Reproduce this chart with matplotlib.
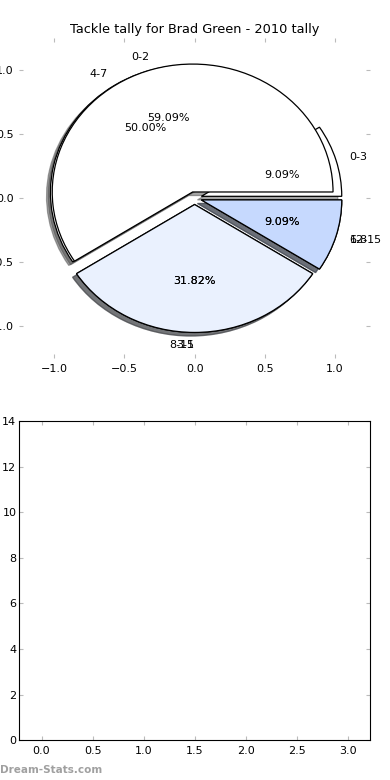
import matplotlib
matplotlib.use('Agg')
import matplotlib.pyplot as plt
import numpy as np

# first tally breakdown (drawn on top)
labels_a = ['0-2', '3-5', '6-8']
counts_a = [13, 7, 2]
colors_a = ['#ffffff', '#eaf1fe', '#c6d9fe']

# second tally breakdown (drawn underneath)
labels_b = ['0-3', '4-7', '8-11', '12-15']
counts_b = [2, 11, 7, 2]
colors_b = ['#ffffff', '#ffffff', '#eaf1fe', '#c6d9fe']

pie_ticks = [-1.0, -0.5, 0.0, 0.5, 1.0]
bar_xticks = [0.0, 0.5, 1.0, 1.5, 2.0, 2.5, 3.0]
bar_yticks = [0, 2, 4, 6, 8, 10, 12, 14]

fig = plt.figure(figsize=(3.9, 7.8), dpi=100)

def style_ticks(ax):
    ax.tick_params(direction='in', length=3, color='#bbbbbb', labelsize=8,
                   top=True, right=True, pad=4)

# pie chart
ax1 = fig.add_axes([0.049, 0.541, 0.9, 0.41])
texts = []
for counts, labels, colors in [(counts_b, labels_b, colors_b),
                               (counts_a, labels_a, colors_a)]:
    wedges, lbls, pcts = ax1.pie(counts, labels=labels, colors=colors,
                                 explode=[0.05] * len(counts),
                                 autopct='%1.2f%%', shadow=True,
                                 textprops={'fontsize': 8},
                                 wedgeprops={'linewidth': 0.9, 'edgecolor': 'black'})
    texts += lbls
# old style: labels straight below the centre hang to the left
for t in texts:
    if abs(t.get_position()[0]) < 0.1:
        t.set_ha('right')
ax1.set_aspect('auto')
ax1.set_xlim(-1.25, 1.25)
ax1.set_ylim(-1.25, 1.25)
ax1.set_xticks(pie_ticks)
ax1.set_yticks(pie_ticks)
ax1.set_frame_on(False)
style_ticks(ax1)
ax1.set_title('Tackle tally for Brad Green - 2010 tally', fontsize=9.3, pad=4)

# empty bar panel
ax2 = fig.add_axes([0.049, 0.051, 0.9, 0.409])
ax2.set_xlim(-0.22, 3.22)
ax2.set_ylim(0, 14)
ax2.set_xticks(bar_xticks)
ax2.set_yticks(bar_yticks)
style_ticks(ax2)
ax2.tick_params(axis='y', pad=2)

fig.text(0.0, 0.013, 'Dream-Stats.com', color='#a0a0a0', fontsize=7.5,
         fontweight='bold', ha='left', va='center')

fig.savefig('out.png', dpi=100)
